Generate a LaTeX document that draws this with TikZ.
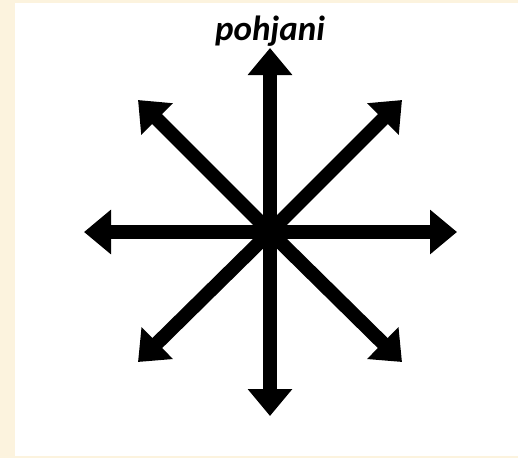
\documentclass[tikz,border=0pt]{standalone}
\usepackage{fontspec}
\setmainfont{Carlito}
\usetikzlibrary{arrows.meta}
\definecolor{beige}{RGB}{252,243,222}
\tikzset{
  dirarrow/.style={line width=14pt, -{Triangle[length=27pt,width=43pt]}},
  label/.style={font=\fontsize{35}{35}\selectfont\bfseries\itshape, anchor=base, inner sep=0pt}
}
\begin{document}
\begin{tikzpicture}[x=1pt,y=-1pt]
  \fill[beige] (0,0) rectangle (518,458);
  \fill[white] (15,3) rectangle (518,456);
  \useasboundingbox (0,0) rectangle (518,458);
  \coordinate (c) at (270,232);
  \coordinate (n) at (270,48);
  \coordinate (s) at (270,416);
  \coordinate (w) at (84,232);
  \coordinate (e) at (457,232);
  \coordinate (nw) at (138,100);
  \coordinate (ne) at (402,100);
  \coordinate (sw) at (138,362);
  \coordinate (se) at (402,362);
  \foreach \d in {n,s,w,e,nw,ne,sw,se} \draw[dirarrow] (c) -- (\d);
  \node[label] (t) at (270,40) {pohjani};
\end{tikzpicture}
\end{document}
